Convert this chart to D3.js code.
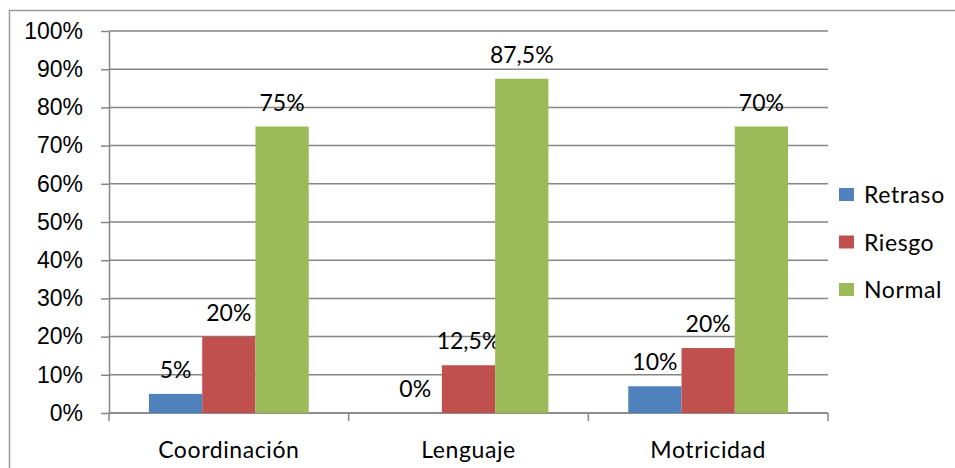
<!DOCTYPE html>
<html>
<head>
<meta charset="utf-8">
<script src="https://cdn.jsdelivr.net/npm/d3@7"></script>
<style>
  body { margin: 0; background: #fff; }
  svg { display: block; font-family: Lato, 'Open Sans', sans-serif; }
  .grid line { stroke: #868686; stroke-width: 1.5; }
  .axis path, .axis line { stroke: #868686; stroke-width: 1.5; }
  .axis text { fill: #000; font-size: 23px; }
  .lbl { font-size: 23px; fill: #000; text-anchor: middle; }
</style>
</head>
<body>
<script>
const categories = ['Coordinación', 'Lenguaje', 'Motricidad']
const seriesNames = ['Retraso', 'Riesgo', 'Normal']
const seriesColors = ['#4F81BD', '#C0504D', '#9BBB59']
// bar heights as drawn (percent)
const retraso = [5, 0, 7]
const riesgo = [20, 12.5, 17]
const normal = [75, 87.5, 75]
// data labels as printed on the chart
const retrasoLabels = ['5%', '0%', '10%']
const riesgoLabels = ['20%', '12,5%', '20%']
const normalLabels = ['75%', '87,5%', '70%']
const yTicks = [0, 10, 20, 30, 40, 50, 60, 70, 80, 90, 100]

const width = 955
const height = 468
const plot = {left: 109, right: 828, top: 31, bottom: 413}

const svg = d3.select('body').append('svg')
  .attr('width', width)
  .attr('height', height)

// outer chart frame
svg.append('rect')
  .attr('x', 9.5).attr('y', 10.5)
  .attr('width', width + 10).attr('height', height + 10)
  .attr('fill', 'none')
  .attr('stroke', '#999')
  .attr('stroke-width', 1.5)

const x0 = d3.scaleBand().domain(categories).range([plot.left, plot.right]).paddingInner(0).paddingOuter(0)
const x1 = d3.scaleBand().domain(seriesNames).range([0, x0.bandwidth()]).paddingInner(0).paddingOuter(0.75)
const y = d3.scaleLinear().domain([0, 100]).range([plot.bottom, plot.top])

// horizontal gridlines
svg.append('g')
  .attr('class', 'grid')
  .selectAll('line')
  .data(yTicks)
  .enter().append('line')
  .attr('x1', plot.left).attr('x2', plot.right)
  .attr('y1', d => y(d)).attr('y2', d => y(d))

// y axis
svg.append('g')
  .attr('class', 'axis')
  .attr('transform', 'translate(' + plot.left + ',0)')
  .call(d3.axisLeft(y).tickValues(yTicks).tickSize(8).tickPadding(18).tickFormat(d => d + '%').tickSizeOuter(0))

// x axis (ticks at category boundaries)
const xAxis = svg.append('g')
  .attr('class', 'axis')
  .attr('transform', 'translate(0,' + plot.bottom + ')')
xAxis.append('line').attr('x1', plot.left).attr('x2', plot.right)
const bounds = categories.map(c => x0(c)).concat([plot.right])
xAxis.selectAll('.tk')
  .data(bounds)
  .enter().append('line')
  .attr('class', 'tk')
  .attr('x1', d => d).attr('x2', d => d)
  .attr('y1', 0).attr('y2', 8)
xAxis.selectAll('text')
  .data(categories)
  .enter().append('text')
  .attr('x', d => x0(d) + x0.bandwidth() / 2)
  .attr('y', 45)
  .attr('text-anchor', 'middle')
  .attr('letter-spacing', 0.6)
  .text(d => d)

const series = [
  {name: 'Retraso', values: retraso, labels: retrasoLabels},
  {name: 'Riesgo', values: riesgo, labels: riesgoLabels},
  {name: 'Normal', values: normal, labels: normalLabels}
]

series.forEach((s, si) => {
  const g = svg.append('g')
  g.selectAll('rect')
    .data(s.values)
    .enter().append('rect')
    .attr('x', (d, i) => x0(categories[i]) + x1(s.name))
    .attr('y', d => y(d))
    .attr('width', x1.bandwidth())
    .attr('height', d => y(0) - y(d))
    .attr('fill', seriesColors[si])

  g.selectAll('text')
    .data(s.values)
    .enter().append('text')
    .attr('class', 'lbl')
    .attr('x', (d, i) => x0(categories[i]) + x1(s.name) + x1.bandwidth() / 2)
    .attr('y', d => y(d) - 16)
    .text((d, i) => s.labels[i])
})

// legend
const legend = svg.append('g')
  .selectAll('g')
  .data(seriesNames)
  .enter().append('g')
  .attr('transform', (d, i) => 'translate(839,' + (188 + i * 47.5) + ')')
legend.append('rect')
  .attr('width', 15).attr('height', 13)
  .attr('fill', (d, i) => seriesColors[i])
legend.append('text')
  .attr('x', 25).attr('y', 15)
  .attr('font-size', 23)
  .attr('letter-spacing', 0.6)
  .text(d => d)
</script>
</body>
</html>
